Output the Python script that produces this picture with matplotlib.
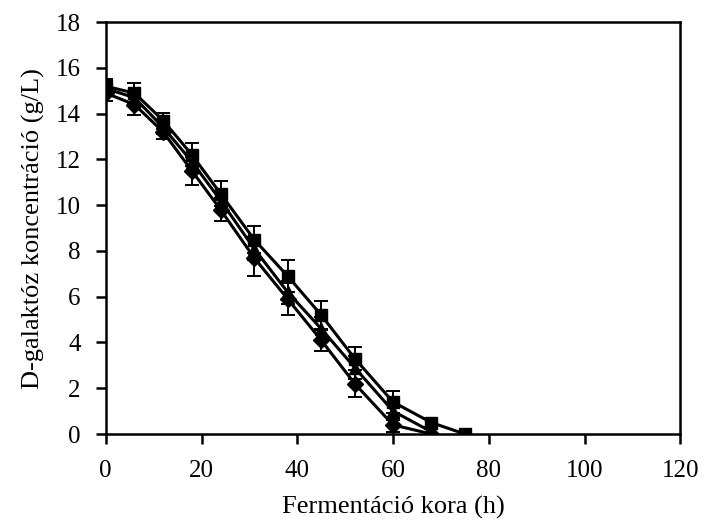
import numpy as np
import matplotlib
matplotlib.use("Agg")
import matplotlib.pyplot as plt

plt.rcParams['font.family'] = ['Liberation Serif', 'DejaVu Serif']

# --- data ---
time_h = [0, 6, 12, 18, 24, 31, 38, 45, 52, 60, 68, 75]

sq_vals = [15.2, 14.9, 13.7, 12.2, 10.5, 8.5, 6.9, 5.2, 3.3, 1.4, 0.5, 0.0]
sq_err = [0.3, 0.45, 0.35, 0.5, 0.55, 0.6, 0.7, 0.6, 0.5, 0.5, 0.2, 0.0]

tri_vals = [15.1, 14.7, 13.4, 11.9, 10.2, 8.1, 6.2, 4.6, 2.9, 1.0, 0.1]
tri_err = [0.25, 0.3, 0.3, 0.4, 0.4, 0.5, 0.5, 0.5, 0.5, 0.4, 0.1]

dia_vals = [14.9, 14.4, 13.2, 11.5, 9.8, 7.7, 5.9, 4.1, 2.2, 0.4, 0.0]
dia_err = [0.35, 0.45, 0.3, 0.6, 0.5, 0.8, 0.7, 0.45, 0.6, 0.3, 0.0]


def main():
    fig = plt.figure(figsize=(7.05, 5.28), dpi=100)
    ax = fig.add_axes([0.150, 0.178, 0.815, 0.780])

    n = len(tri_vals)
    kw = dict(color="black", lw=2.2, ms=8, capsize=5, elinewidth=1.4, capthick=1.4)
    ax.errorbar(time_h, sq_vals, yerr=sq_err, marker="s", **kw)
    ax.errorbar(time_h[:n], tri_vals, yerr=tri_err, marker="^", **kw)
    ax.errorbar(time_h[:n], dia_vals, yerr=dia_err, marker="D", **kw)

    ax.set_xlim(0, 120)
    ax.set_ylim(0, 18)
    ax.set_xticks(np.arange(0, 121, 20))
    ax.set_yticks(np.arange(0, 19, 2))
    ax.tick_params(direction="out", length=7, width=1.8, labelsize=18)
    ax.tick_params(axis="x", pad=12)
    ax.tick_params(axis="y", pad=11)
    for s in ax.spines.values():
        s.set_linewidth(1.8)

    ax.set_xlabel("Fermentáció kora (h)", fontsize=19, labelpad=10)
    ax.set_ylabel("D-galaktóz koncentráció (g/L)", fontsize=19, labelpad=8)

    fig.savefig("out.png", dpi=100)


if __name__ == "__main__":
    main()
